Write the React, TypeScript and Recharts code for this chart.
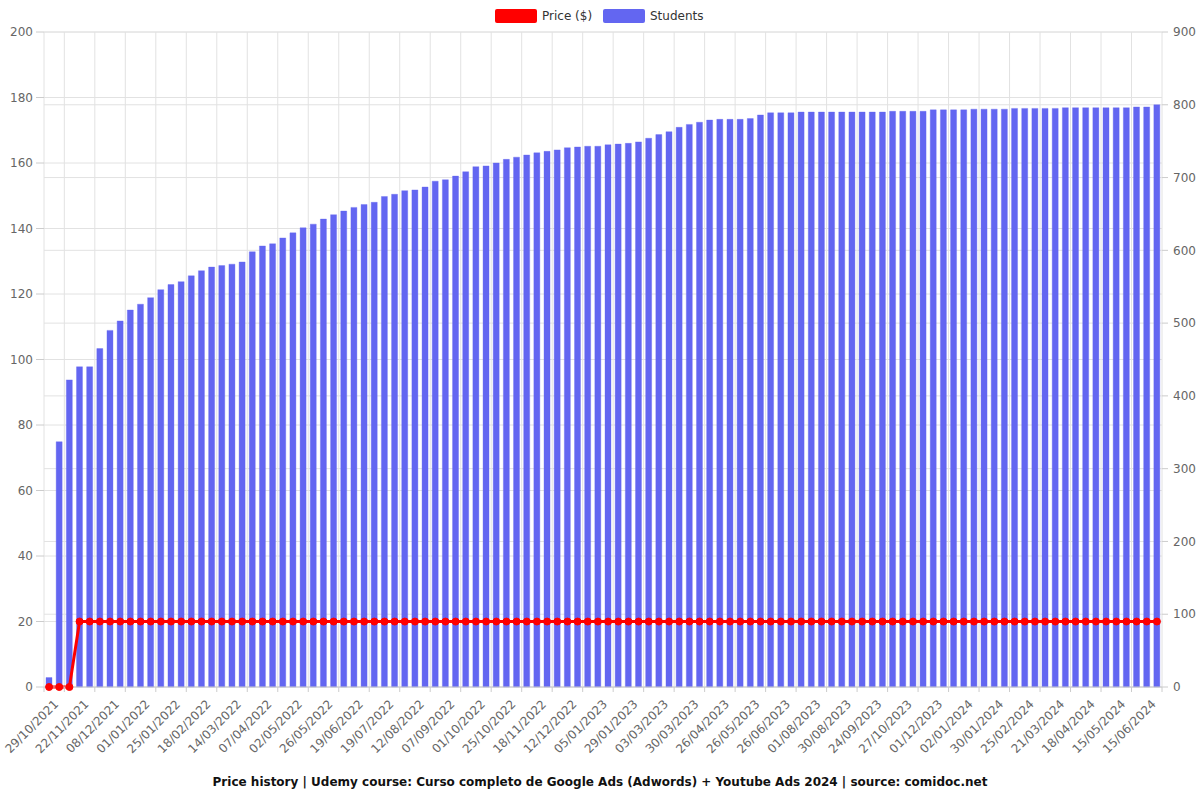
import React from 'react'
import { ComposedChart, Bar, Line, XAxis, YAxis, CartesianGrid } from 'recharts'

const dates = [
  '29/10/2021', '05/11/2021', '14/11/2021', '22/11/2021', '27/11/2021', '03/12/2021', '08/12/2021', '16/12/2021', '24/12/2021', '01/01/2022',
  '09/01/2022', '17/01/2022', '25/01/2022', '02/02/2022', '10/02/2022', '18/02/2022', '26/02/2022', '06/03/2022', '14/03/2022', '22/03/2022',
  '30/03/2022', '07/04/2022', '15/04/2022', '24/04/2022', '02/05/2022', '10/05/2022', '18/05/2022', '26/05/2022', '03/06/2022', '11/06/2022',
  '19/06/2022', '29/06/2022', '09/07/2022', '19/07/2022', '27/07/2022', '04/08/2022', '12/08/2022', '21/08/2022', '30/08/2022', '07/09/2022',
  '15/09/2022', '23/09/2022', '01/10/2022', '09/10/2022', '17/10/2022', '25/10/2022', '02/11/2022', '10/11/2022', '18/11/2022', '26/11/2022',
  '04/12/2022', '12/12/2022', '20/12/2022', '28/12/2022', '05/01/2023', '13/01/2023', '21/01/2023', '29/01/2023', '10/02/2023', '20/02/2023',
  '03/03/2023', '12/03/2023', '21/03/2023', '30/03/2023', '08/04/2023', '17/04/2023', '26/04/2023', '06/05/2023', '16/05/2023', '26/05/2023',
  '05/06/2023', '15/06/2023', '26/06/2023', '08/07/2023', '20/07/2023', '01/08/2023', '11/08/2023', '20/08/2023', '30/08/2023', '07/09/2023',
  '15/09/2023', '24/09/2023', '05/10/2023', '16/10/2023', '27/10/2023', '08/11/2023', '20/11/2023', '01/12/2023', '12/12/2023', '22/12/2023',
  '02/01/2024', '11/01/2024', '20/01/2024', '30/01/2024', '07/02/2024', '16/02/2024', '25/02/2024', '04/03/2024', '12/03/2024', '21/03/2024',
  '30/03/2024', '09/04/2024', '18/04/2024', '27/04/2024', '06/05/2024', '15/05/2024', '25/05/2024', '05/06/2024', '15/06/2024', '24/06/2024',
]

const students = [
  13, 337, 422, 440, 440, 465, 490, 503, 518, 526,
  535, 546, 553, 557, 565, 572, 577, 579, 581, 584,
  598, 606, 609, 617, 624, 631, 636, 643, 649, 654,
  659, 663, 666, 674, 677, 682, 683, 687, 695, 697,
  702, 708, 715, 716, 720, 725, 728, 731, 734, 736,
  738, 741, 742, 743, 743, 745, 746, 747, 749, 754,
  759, 763, 769, 773, 776, 779, 780, 780, 780, 781,
  786, 789, 789, 789, 790, 790, 790, 790, 790, 790,
  790, 790, 790, 791, 791, 791, 791, 793, 793, 793,
  793, 794, 794, 794, 794, 795, 795, 795, 795, 795,
  796, 796, 796, 796, 796, 796, 796, 797, 797, 800,
]

const prices = [
  0, 0, 0, 19.99, 19.99, 19.99, 19.99, 19.99, 19.99, 19.99,
  19.99, 19.99, 19.99, 19.99, 19.99, 19.99, 19.99, 19.99, 19.99, 19.99,
  19.99, 19.99, 19.99, 19.99, 19.99, 19.99, 19.99, 19.99, 19.99, 19.99,
  19.99, 19.99, 19.99, 19.99, 19.99, 19.99, 19.99, 19.99, 19.99, 19.99,
  19.99, 19.99, 19.99, 19.99, 19.99, 19.99, 19.99, 19.99, 19.99, 19.99,
  19.99, 19.99, 19.99, 19.99, 19.99, 19.99, 19.99, 19.99, 19.99, 19.99,
  19.99, 19.99, 19.99, 19.99, 19.99, 19.99, 19.99, 19.99, 19.99, 19.99,
  19.99, 19.99, 19.99, 19.99, 19.99, 19.99, 19.99, 19.99, 19.99, 19.99,
  19.99, 19.99, 19.99, 19.99, 19.99, 19.99, 19.99, 19.99, 19.99, 19.99,
  19.99, 19.99, 19.99, 19.99, 19.99, 19.99, 19.99, 19.99, 19.99, 19.99,
  19.99, 19.99, 19.99, 19.99, 19.99, 19.99, 19.99, 19.99, 19.99, 19.99,
]

const priceTicks = [0, 20, 40, 60, 80, 100, 120, 140, 160, 180, 200]
const studentTicks = [0, 100, 200, 300, 400, 500, 600, 700, 800, 900]

const title = 'Price history | Udemy course: Curso completo de Google Ads (Adwords) + Youtube Ads 2024 | source: comidoc.net'

const FONT = '"DejaVu Sans", Verdana, sans-serif'
const BAR_COLOR = '#6366f1'
const PRICE_COLOR = '#ff0000'
const GRID = '#e2e2e2'
const N = dates.length

const data = dates.map((d, i) => ({ date: d, students: students[i], price: prices[i] }))

// vertical grid lines sit on category boundaries, every 3rd one
const verticalLines = ({ offset }: any) => {
  const step = offset.width / N
  const xs = [offset.left]
  for (let k = 2; k <= N; k += 3) xs.push(offset.left + k * step)
  return xs
}

const DateTick = (props: any) => {
  const { x, y, payload } = props
  const step = 1118 / N
  const ax = x + 7
  const ay = y + 7
  return (
    <g>
      <line x1={x + 1.5 * step} x2={x + 1.5 * step} y1={y - 8} y2={y - 3} stroke="#ccc" />
      {payload.index === 0 && (
        <line x1={x - 0.5 * step} x2={x - 0.5 * step} y1={y - 8} y2={y - 3} stroke="#ccc" />
      )}
      <text
        x={ax}
        y={ay}
        dy="0.35em"
        transform={`rotate(-45, ${ax}, ${ay})`}
        textAnchor="end"
        fontSize={12}
        fill="#666"
        fontFamily={FONT}
      >
        {payload.value}
      </text>
    </g>
  )
}

const LegendItem = ({ color, label, left }: { color: string; label: string; left: number }) => (
  <div style={{ position: 'absolute', left, top: 8, display: 'flex', alignItems: 'center' }}>
    <div style={{ width: 42, height: 14, background: color, borderRadius: 2 }} />
    <span style={{ marginLeft: 5, fontSize: 12, color: '#333', fontFamily: FONT, lineHeight: '16px' }}>{label}</span>
  </div>
)

export default function App() {
  return (
    <div style={{ position: 'absolute', left: 0, top: 0, width: 1200, height: 800, background: '#fff' }}>
      <ComposedChart
        width={1200}
        height={800}
        data={data}
        margin={{ top: 32, right: 0, left: 0, bottom: 33 }}
        barSize={6}
      >
        <CartesianGrid yAxisId="left" stroke={GRID} verticalCoordinatesGenerator={verticalLines} />
        <CartesianGrid yAxisId="right" stroke={GRID} vertical={false} />
        <XAxis
          dataKey="date"
          interval={2}
          height={80}
          tick={<DateTick />}
          tickLine={false}
          axisLine={{ stroke: '#ccc' }}
        />
        <YAxis
          yAxisId="left"
          width={44}
          domain={[0, 200]}
          ticks={priceTicks}
          interval={0}
          axisLine={false}
          tickLine={{ stroke: '#ccc' }}
          tickSize={8}
          tickMargin={3}
          tick={{ fontSize: 12, fill: '#666', fontFamily: FONT }}
        />
        <YAxis
          yAxisId="right"
          orientation="right"
          width={38}
          domain={[0, 900]}
          ticks={studentTicks}
          interval={0}
          axisLine={false}
          tickLine={{ stroke: '#ccc' }}
          tickSize={6}
          tickMargin={5}
          tick={{ fontSize: 12, fill: '#666', fontFamily: FONT }}
        />
        <Bar
          yAxisId="right"
          dataKey="students"
          fill={BAR_COLOR}
          stroke={BAR_COLOR}
          strokeOpacity={0.35}
          isAnimationActive={false}
        />
        <Line
          yAxisId="left"
          dataKey="price"
          stroke={PRICE_COLOR}
          strokeWidth={3}
          dot={{ r: 3.5, fill: PRICE_COLOR, stroke: PRICE_COLOR, strokeWidth: 1 }}
          isAnimationActive={false}
        />
      </ComposedChart>
      <LegendItem color={PRICE_COLOR} label="Price ($)" left={495} />
      <LegendItem color={BAR_COLOR} label="Students" left={603} />
      <div
        style={{
          position: 'absolute',
          left: 0,
          width: 1200,
          top: 775,
          textAlign: 'center',
          fontFamily: FONT,
          fontWeight: 'bold',
          fontSize: 12,
          color: '#111',
        }}
      >
        {title}
      </div>
    </div>
  )
}
